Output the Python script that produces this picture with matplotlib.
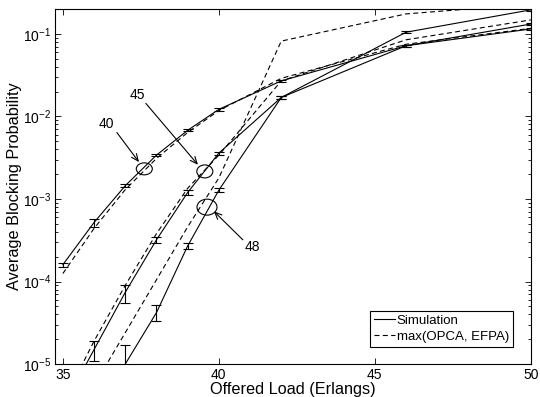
import numpy as np
import matplotlib
matplotlib.use('Agg')
import matplotlib.pyplot as plt
from matplotlib.patches import Ellipse
from matplotlib import transforms
from matplotlib.lines import Line2D

plt.rcParams['font.family'] = ['Liberation Sans', 'DejaVu Sans']
plt.rcParams['mathtext.fontset'] = 'custom'
plt.rcParams['mathtext.rm'] = 'Liberation Sans'

# offered load points (Erlangs)
load = [35, 36, 37, 38, 39, 40, 42, 46, 50]

# simulation results with confidence intervals (lower, upper), per capacity
sim_40 = [1.6e-4, 5.2e-4, 1.45e-3, 3.4e-3, 6.8e-3, 0.0122, 0.027, 0.072, 0.115]
sim_40_lo = [1.5e-4, 4.6e-4, 1.38e-3, 3.3e-3, 6.6e-3, 0.0118, 0.026, 0.070, 0.112]
sim_40_hi = [1.7e-4, 5.8e-4, 1.52e-3, 3.5e-3, 7.0e-3, 0.0126, 0.028, 0.074, 0.118]

sim_45 = [3.0e-6, 1.5e-5, 7.4e-5, 3.2e-4, 1.2e-3, 3.6e-3, 0.017, 0.072, 0.132]
sim_45_lo = [3.0e-6, 1.1e-5, 5.5e-5, 2.9e-4, 1.13e-3, 3.45e-3, 0.0163, 0.070, 0.129]
sim_45_hi = [3.0e-6, 1.9e-5, 9.0e-5, 3.5e-4, 1.28e-3, 3.75e-3, 0.0177, 0.074, 0.135]

sim_48 = [1.0e-6, 2.5e-6, 1.0e-5, 4.2e-5, 2.7e-4, 1.28e-3, 0.017, 0.105, 0.196]
sim_48_lo = [1.0e-6, 2.5e-6, 3.0e-6, 3.3e-5, 2.45e-4, 1.2e-3, 0.0163, 0.102, 0.192]
sim_48_hi = [1.0e-6, 2.5e-6, 1.7e-5, 5.2e-5, 2.95e-4, 1.36e-3, 0.0177, 0.108, 0.200]

# max(OPCA, EFPA) approximation
apx_40 = [1.25e-4, 4.4e-4, 1.3e-3, 3.1e-3, 6.4e-3, 0.0118, 0.029, 0.075, 0.117]
apx_45 = [3.4e-6, 1.9e-5, 9.0e-5, 3.8e-4, 1.35e-3, 3.4e-3, 0.027, 0.085, 0.148]
apx_48 = [1.0e-6, 5.5e-6, 2.4e-5, 1.05e-4, 4.6e-4, 1.8e-3, 0.082, 0.175, 0.23]

# circled curve labels: (text, label pos, arrow tail, arrow tip, ellipse centre, ellipse size px)
labels = [
    ('40', (36.41, 8.2e-3), (36.73, 6.4e-3), (37.44, 2.8e-3), (37.61, 2.32e-3), (16, 12)),
    ('45', (37.40, 0.018), (37.66, 0.0144), (39.33, 2.6e-3), (39.55, 2.16e-3), (16, 13)),
    ('48', (41.06, 2.6e-4), (40.77, 3.2e-4), (39.84, 7.1e-4), (39.62, 7.97e-4), (20, 16)),
]

fig = plt.figure(figsize=(5.4, 3.97), dpi=100)
ax = fig.add_axes([0.102, 0.083, 0.881, 0.894])
ax.set_yscale('log')

dash = (0, (4.5, 3))
for sim, lo, hi, apx in [(sim_40, sim_40_lo, sim_40_hi, apx_40),
                         (sim_45, sim_45_lo, sim_45_hi, apx_45),
                         (sim_48, sim_48_lo, sim_48_hi, apx_48)]:
    sim = np.array(sim)
    yerr = [sim - np.array(lo), np.array(hi) - sim]
    ax.errorbar(load, sim, yerr=yerr, color='k', lw=0.8, elinewidth=0.8,
                capsize=3.6, capthick=0.8)
    ax.plot(load, apx, color='k', lw=0.8, linestyle=dash)

for txt, tpos, tail, tip, cen, size in labels:
    ax.text(tpos[0], tpos[1], txt, ha='center', va='center', fontsize=10)
    ax.annotate('', xy=tip, xytext=tail,
                arrowprops=dict(arrowstyle='->,head_length=0.5,head_width=0.22',
                                color='k', lw=0.8, shrinkA=0, shrinkB=0))
    trans = fig.dpi_scale_trans + transforms.ScaledTranslation(cen[0], cen[1], ax.transData)
    ax.add_patch(Ellipse((0, 0), size[0] / 100, size[1] / 100, transform=trans,
                         fill=False, edgecolor='k', lw=0.8))

ax.set_xlim(34.75, 50)
ax.set_ylim(1e-5, 0.2)
ax.set_xticks([35, 40, 45, 50])
ax.set_yticks([1e-5, 1e-4, 1e-3, 1e-2, 1e-1])
ax.tick_params(which='both', direction='in', top=True, right=True, labelsize=10, width=0.6)
ax.tick_params(which='major', length=4, pad=3)
ax.tick_params(which='minor', length=2)
ax.tick_params(axis='x', which='minor', bottom=False, top=False)
for s in ax.spines.values():
    s.set_linewidth(0.8)

ax.set_xlabel('Offered Load (Erlangs)', fontsize=11.7, labelpad=0)
ax.set_ylabel('Average Blocking Probability', fontsize=11.7)
ax.yaxis.set_label_coords(-0.069, 0.5)

handles = [Line2D([], [], color='k', lw=0.8),
           Line2D([], [], color='k', lw=0.8, linestyle=dash)]
leg = ax.legend(handles, ['Simulation', 'max(OPCA, EFPA)'], loc='lower right',
                bbox_to_anchor=(0.962, 0.048), borderaxespad=0, fontsize=9.5,
                fancybox=False, framealpha=1, edgecolor='k', handlelength=1.6,
                handletextpad=0.1, borderpad=0.3, labelspacing=0.3)
leg.get_frame().set_linewidth(0.8)

fig.savefig('out.png', dpi=100)
